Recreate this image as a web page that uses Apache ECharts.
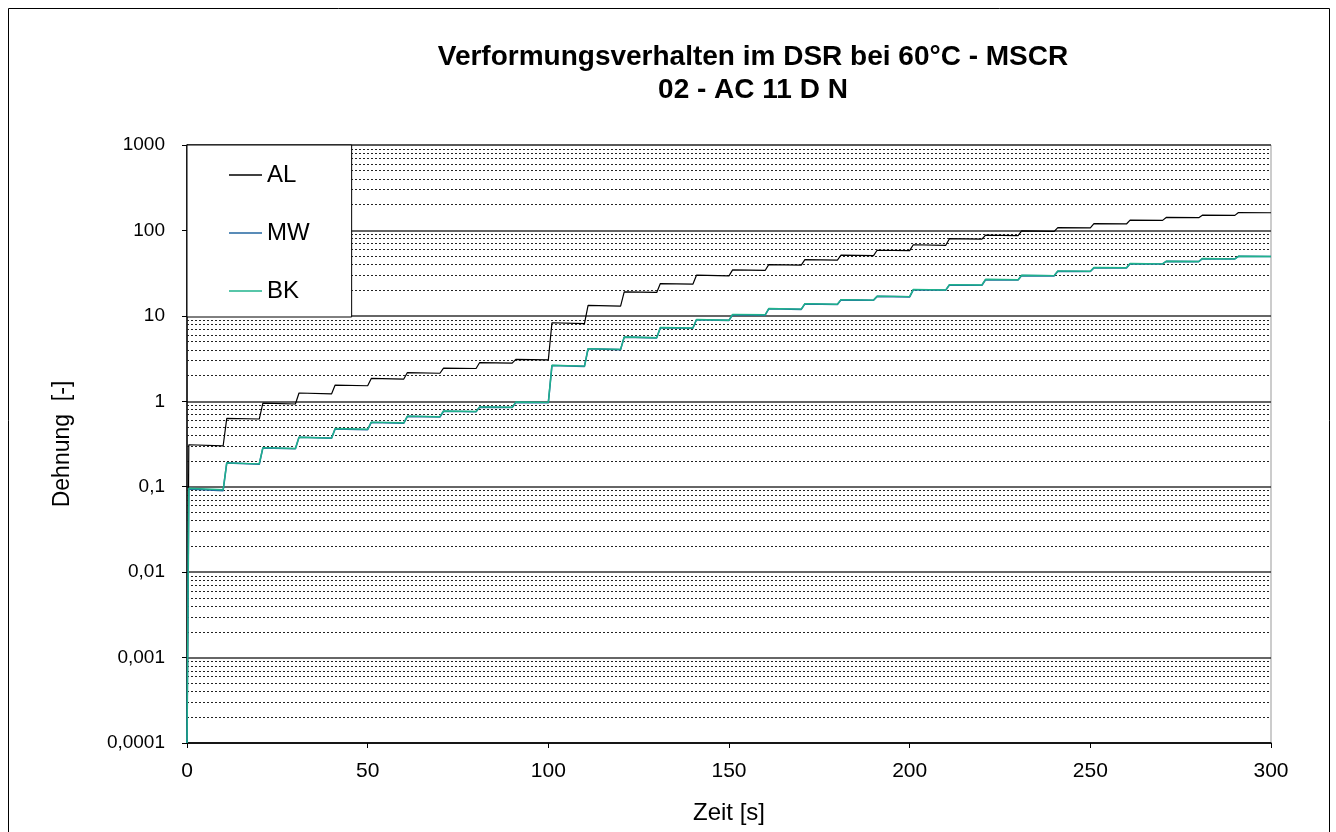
<!DOCTYPE html>
<html>
<head>
<meta charset="utf-8">
<script src="https://cdn.jsdelivr.net/npm/echarts@6/dist/echarts.min.js"></script>
<style>
html,body{margin:0;padding:0;background:#fff;}
#chart{width:1336px;height:832px;}
</style>
</head>
<body>
<div id="chart"></div>
<script>
// ---- data ----
const titleLines = ['Verformungsverhalten im DSR bei 60°C - MSCR', '02 - AC 11 D N'];
const seriesNames = ['AL', 'MW', 'BK'];
const xTicks = [0, 50, 100, 150, 200, 250, 300];
const yTickLabels = ['0,0001', '0,001', '0,01', '0,1', '1', '10', '100', '1000'];
// each 10 s MSCR cycle: time at end of creep phase and time at end of recovery phase
const creepEndTime = [0.5,11,21,31,41,51,61,71,81,91,101,111,121,131,141,151,161,171,181,191,201,211,221,231,241,251,261,271,281,291];
const cycleEndTime = [10,20,30,40,50,60,70,80,90,100,110,120,130,140,150,160,170,180,190,200,210,220,230,240,250,260,270,280,290,300];
const startValue = [0.0001, 0.0001, 0.0001];
// strain at end of creep (peak) and end of recovery for each cycle
const alPeak = [0.31,0.63,0.95,1.25,1.55,1.85,2.17,2.45,2.84,3.1, 8.3,13.3,19.1,23.9,29.9,34.5,39.8,45.6,51.3,58.6, 68,80,88,98.6,108,120,132,142,151,162];
const alEnd  = [0.30,0.62,0.93,1.22,1.52,1.82,2.13,2.42,2.80,3.05, 8.1,13.0,18.8,23.5,29.4,34.0,39.2,45.0,50.6,58.0, 67,79,87,97.5,107,119,131,141,150,161];
const mwPeak = [0.094,0.19,0.285,0.38,0.475,0.565,0.665,0.765,0.855,0.97, 2.62,4.12,5.64,7.25,9.0,10.3,12.1,13.8,15.4,16.9, 20.2,23.0,26.5,29.6,33.3,36.5,40.8,43.4,46.7,49.8];
const mwEnd  = [0.090,0.183,0.278,0.37,0.465,0.555,0.655,0.755,0.845,0.96, 2.56,4.03,5.53,7.15,8.85,10.2,11.9,13.6,15.2,16.7, 20.0,22.8,26.3,29.4,33.1,36.3,40.5,43.1,46.4,49.5];
const bkPeak = [0.096,0.19,0.287,0.38,0.48,0.57,0.67,0.77,0.86,0.98, 2.64,4.14,5.66,7.3,9.05,10.4,12.2,13.9,15.5,17.0, 20.4,23.2,26.8,29.9,33.6,36.8,41.0,43.6,46.9,49.9];
const bkEnd  = [0.092,0.185,0.28,0.37,0.47,0.56,0.66,0.76,0.85,0.97, 2.58,4.05,5.55,7.2,8.9,10.3,12.0,13.7,15.3,16.8, 20.1,23.0,26.5,29.6,33.3,36.5,40.6,43.2,46.5,49.5];

function buildSteps(start, peaks, ends) {
  const pts = [[0, start]];
  for (let i = 0; i < creepEndTime.length; i++) {
    pts.push([creepEndTime[i], peaks[i]]);
    pts.push([cycleEndTime[i], ends[i]]);
  }
  return pts;
}

const font = 'Liberation Sans, Arial, sans-serif';
const colors = ['#000000', '#2266a0', '#1fb38c'];

// minor grid values (2..9 x each decade)
const minorGrid = [];
for (let d = -4; d < 3; d++) {
  for (let m = 2; m <= 9; m++) minorGrid.push(Number((m * Math.pow(10, d)).toPrecision(3)));
}

const chart = echarts.init(document.getElementById('chart'));
chart.setOption({
  animation: false,
  backgroundColor: '#ffffff',
  graphic: [{
    type: 'rect', shape: {x: 8.5, y: 8.5, width: 1321, height: 840},
    style: {fill: 'none', stroke: '#000', lineWidth: 1}, silent: true, z: 0
  }],
  title: {
    text: titleLines.join('\n'),
    left: 748, top: 36, textAlign: 'center',
    textStyle: {fontFamily: font, fontSize: 28, fontWeight: 'bold', color: '#000', lineHeight: 33}
  },
  legend: {
    data: seriesNames,
    orient: 'vertical',
    left: 187, top: 145,
    padding: [18, 42, 14, 42],
    itemGap: 34,
    itemWidth: 33, itemHeight: 1.5,
    icon: 'rect',
    backgroundColor: '#ffffff',
    borderColor: '#000', borderWidth: 1,
    textStyle: {fontFamily: font, fontSize: 24, color: '#000', lineHeight: 24},
    z: 10
  },
  grid: {left: 187, right: 65, top: 145, bottom: 89, show: true, borderColor: '#999', borderWidth: 1},
  xAxis: {
    type: 'value', min: 0, max: 300, interval: 50,
    name: 'Zeit [s]', nameLocation: 'middle', nameGap: 58,
    nameTextStyle: {fontFamily: font, fontSize: 24, color: '#000'},
    axisLine: {show: true, lineStyle: {color: '#000', width: 1.5}},
    axisTick: {show: true, length: 5, lineStyle: {color: '#000'}},
    axisLabel: {fontFamily: font, fontSize: 21, color: '#000', margin: 18,
      formatter: v => xTicks.indexOf(v) >= 0 ? String(v) : ''},
    splitLine: {show: false}
  },
  yAxis: {
    type: 'log', logBase: 10, min: 0.0001, max: 1000,
    name: 'Dehnung  [-]', nameLocation: 'middle', nameGap: 113, nameRotate: 90,
    nameTextStyle: {fontFamily: font, fontSize: 23, color: '#000'},
    axisLine: {show: true, lineStyle: {color: '#000', width: 1.5}},
    axisTick: {show: true, length: 5, lineStyle: {color: '#000'}},
    axisLabel: {fontFamily: font, fontSize: 19, color: '#000', margin: 22,
      formatter: v => {
        const idx = Math.round(Math.log10(v)) + 4;
        return yTickLabels[idx] !== undefined ? yTickLabels[idx] : '';
      }},
    splitLine: {show: true, lineStyle: {color: '#333', width: 1.5}},
    minorSplitLine: {show: false}
  },
  series: [
    {
      name: '_grid', type: 'lines', coordinateSystem: 'cartesian2d', z: 1, silent: true,
      lineStyle: {color: '#222', width: 1, type: [2, 2], opacity: 1},
      data: minorGrid.map(v => ({coords: [[0, v], [300, v]]}))
    },
    {
      name: seriesNames[0], type: 'line', showSymbol: false, z: 3,
      lineStyle: {color: colors[0], width: 1.2}, itemStyle: {color: colors[0]},
      data: buildSteps(startValue[0], alPeak, alEnd)
    },
    {
      name: seriesNames[1], type: 'line', showSymbol: false, z: 3,
      lineStyle: {color: colors[1], width: 1.6}, itemStyle: {color: colors[1]},
      data: buildSteps(startValue[1], mwPeak, mwEnd)
    },
    {
      name: seriesNames[2], type: 'line', showSymbol: false, z: 4,
      lineStyle: {color: colors[2], width: 1.4}, itemStyle: {color: colors[2]},
      data: buildSteps(startValue[2], bkPeak, bkEnd)
    }
  ]
});
</script>
</body>
</html>
